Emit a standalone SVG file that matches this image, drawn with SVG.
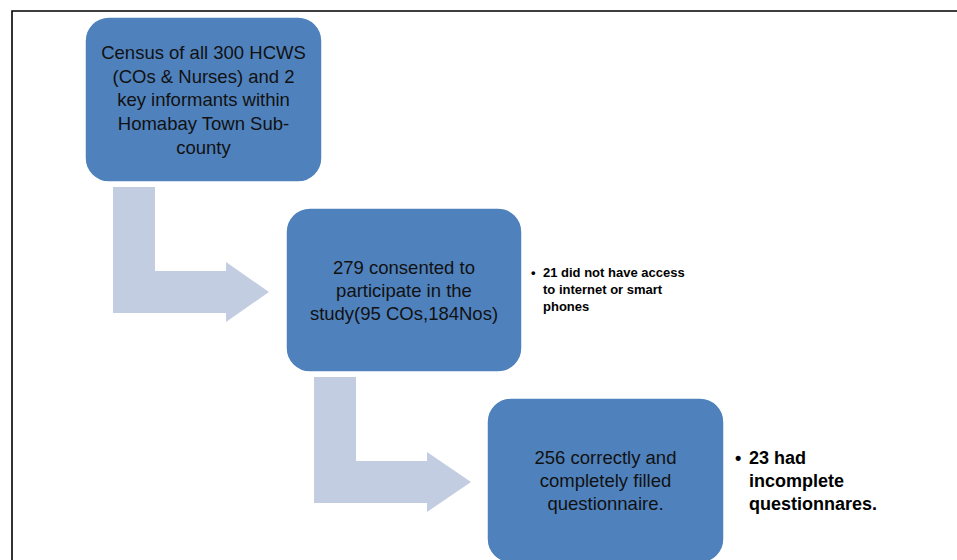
<svg xmlns="http://www.w3.org/2000/svg" width="957" height="560" viewBox="0 0 957 560">
<style>
.box{fill:#4F81BD;stroke:#ffffff;stroke-width:1.5}
.arr{fill:#C3CDE2}
.t{font-family:"Liberation Sans",Arial,sans-serif;font-size:18.5px;fill:#111;text-anchor:middle}
.b{font-family:"Liberation Sans",Arial,sans-serif;font-weight:bold;fill:#000}
.frame{stroke:#000;stroke-width:1.6;fill:none}
</style>
<rect width="957" height="560" fill="#fff"/>
<path class="frame" d="M12,560 V11 H957"/>
<g id="connectors">
<path class="arr" d="M113,187 H155 V271 H226 V262 L269,292 L226,322 V313 H113 Z"/>
<path class="arr" d="M314,377 H356 V461 H427 V452 L471,482 L427,512 V503 H314 Z"/>
</g>
<g id="node1">
<rect class="box" x="85" y="17" width="237" height="165" rx="24"/>
<text class="t"><tspan x="203.5" y="58.5">Census of all 300 HCWS</tspan><tspan x="203.5" y="82.5">(COs &amp; Nurses) and 2</tspan><tspan x="203.5" y="106">key informants within</tspan><tspan x="203.5" y="129.5">Homabay Town Sub-</tspan><tspan x="203.5" y="153.5">county</tspan></text>
</g>
<g id="node2">
<rect class="box" x="286" y="208" width="236" height="164" rx="24"/>
<text class="t"><tspan x="404" y="273.5">279 consented to</tspan><tspan x="404" y="296.5">participate in the</tspan><tspan x="404" y="319.5">study(95 COs,184Nos)</tspan></text>
</g>
<g id="note1">
<text class="b" font-size="13"><tspan x="531" y="277">•</tspan><tspan x="543" y="277">21 did not have access</tspan><tspan x="543" y="294">to internet or smart</tspan><tspan x="543" y="311">phones</tspan></text>
</g>
<g id="node3">
<rect class="box" x="487" y="398" width="237" height="165" rx="24"/>
<text class="t"><tspan x="605.5" y="463.5">256 correctly and</tspan><tspan x="605.5" y="486.5">completely filled</tspan><tspan x="605.5" y="509.5">questionnaire.</tspan></text>
</g>
<g id="note2">
<text class="b" font-size="18"><tspan x="735" y="463.5">•</tspan><tspan x="749" y="463.5">23 had</tspan><tspan x="749" y="486.5">incomplete</tspan><tspan x="749" y="509.5">questionnares.</tspan></text>
</g>
</svg>
